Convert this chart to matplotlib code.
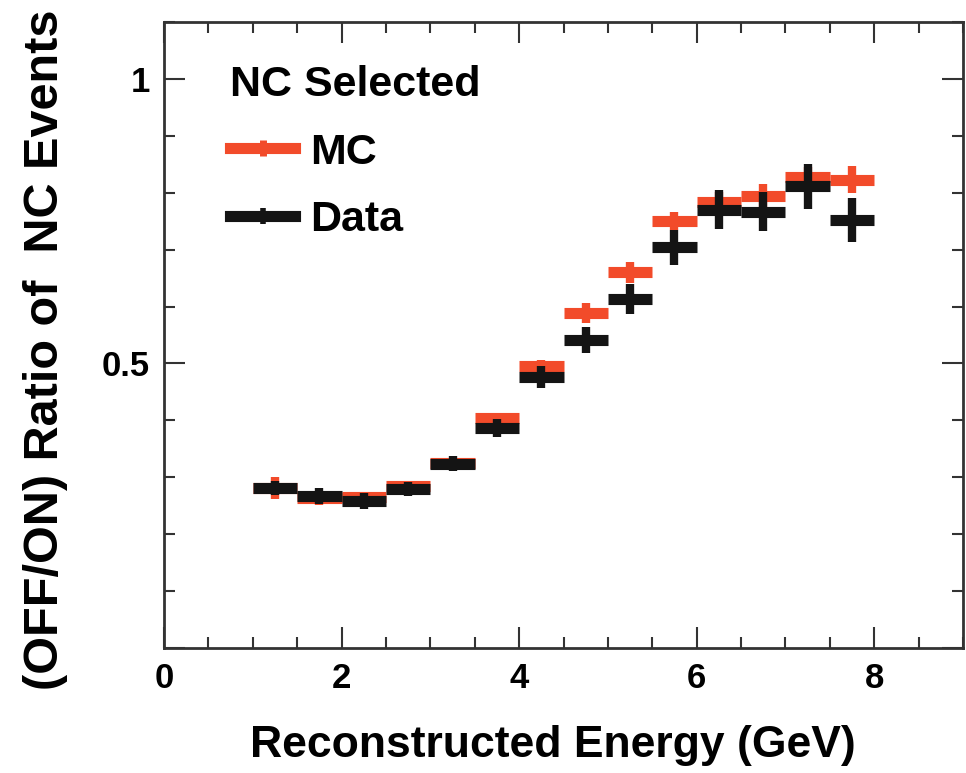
import matplotlib
matplotlib.use("Agg")
from matplotlib import pyplot as plt
from matplotlib.lines import Line2D
import numpy as np

plt.rcParams['font.family'] = ['Liberation Sans', 'DejaVu Sans']
plt.rcParams['font.weight'] = 'bold'
plt.rcParams['axes.labelweight'] = 'bold'

# bin centres (GeV), half width 0.25
energy = [1.25, 1.75, 2.25, 2.75, 3.25, 3.75, 4.25, 4.75, 5.25, 5.75, 6.25, 6.75, 7.25, 7.75]
mc_ratio = [0.281, 0.264, 0.265, 0.284, 0.325, 0.405, 0.496, 0.589, 0.660, 0.751, 0.784, 0.794, 0.827, 0.823]
mc_err = [0.020, 0.012, 0.010, 0.008, 0.006, 0.008, 0.010, 0.018, 0.018, 0.016, 0.018, 0.022, 0.018, 0.024]
data_ratio = [0.281, 0.267, 0.259, 0.279, 0.324, 0.387, 0.476, 0.541, 0.613, 0.704, 0.770, 0.767, 0.811, 0.752]
data_err = [0.013, 0.014, 0.014, 0.012, 0.013, 0.016, 0.019, 0.023, 0.026, 0.031, 0.034, 0.035, 0.040, 0.039]
half_width = 0.25

mc_color = "#F24B2A"
data_color = "#141414"

fig = plt.figure(figsize=(9.66, 7.73), dpi=100)
ax = fig.add_axes([164/966, 1 - 648/773, (963-164)/966, (648-22)/773])

for y, err, col in [(mc_ratio, mc_err, mc_color), (data_ratio, data_err, data_color)]:
    ax.errorbar(energy, y, xerr=half_width, fmt='none', ecolor=col, elinewidth=8, capsize=0)
    ax.errorbar(energy, y, yerr=err, fmt='none', ecolor=col, elinewidth=6, capsize=0)

ax.set_xlim(0, 9)
ax.set_ylim(0, 1.1)
ax.set_xticks([0, 2, 4, 6, 8])
ax.set_xticks(np.arange(0, 9.01, 0.5), minor=True)
ax.set_yticks([0, 0.5, 1])
ax.set_yticklabels(['', '0.5', '1'])
ax.set_yticks(np.arange(0, 1.101, 0.1), minor=True)
ax.tick_params(which='both', direction='in', top=True, right=True, labelsize=25, width=1.5, color='#333333')
ax.tick_params(which='major', length=15, pad=10)
ax.tick_params(which='minor', length=8)
for s in ax.spines.values():
    s.set_linewidth(2)
    s.set_color('#333333')

ax.set_xlabel("Reconstructed Energy (GeV)", fontsize=32)
ax.xaxis.set_label_coords((553 - 164) / 799, (648 - 746) / 626)
ax.xaxis.label.set_verticalalignment('center')

ax.set_ylabel("(OFF/ON) Ratio of  NC Events", fontsize=35)
ax.yaxis.label.set_horizontalalignment('left')
ax.yaxis.label.set_verticalalignment('center')
ax.yaxis.set_label_coords((45 - 164) / 799, (648 - 690) / 626)

handles = [
    Line2D([], [], color=mc_color, lw=8, marker='|', markersize=12, markeredgewidth=5),
    Line2D([], [], color=data_color, lw=8, marker='|', markersize=12, markeredgewidth=4),
]
leg = ax.legend(handles, ["MC", "Data"], title="NC Selected", loc='upper left',
                bbox_to_anchor=(0.056, 0.965), frameon=False, fontsize=31,
                title_fontsize=31, handlelength=1.5, handletextpad=0.35,
                labelspacing=0.63, borderpad=0, alignment='left')

fig.savefig("out.png", dpi=100)
